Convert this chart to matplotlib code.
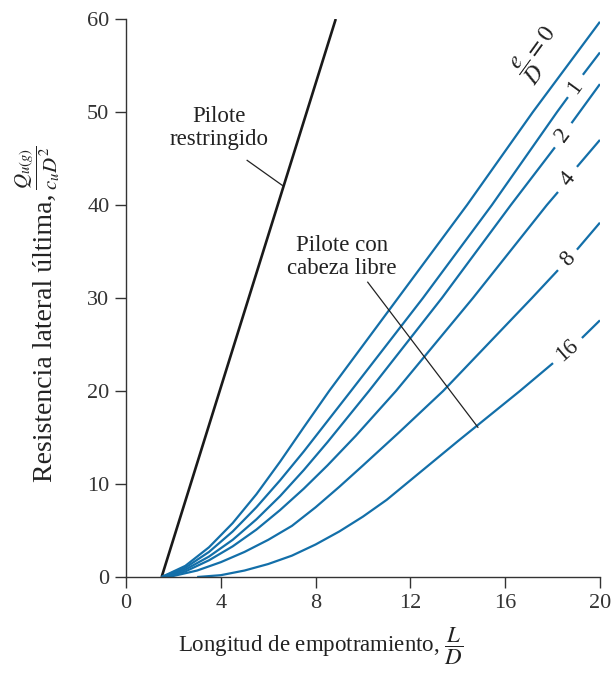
# resistencia lateral ultima de pilotes cortos (arcilla)
import numpy as np
import matplotlib
matplotlib.use('Agg')
import matplotlib.pyplot as plt

plt.rcParams['font.family'] = ['Liberation Serif', 'DejaVu Serif']
plt.rcParams['mathtext.fontset'] = 'stix'

# pilote restringido (recta)
x_rest = [1.5, 8.85]
y_rest = [0, 60]

# pilote con cabeza libre, curvas e/D ; NaN = hueco para la etiqueta
x_e0 = [1.5, 2.5, 3.5, 4.5, 5.5, 6.5, 7.5, 8.57, 11.48, 14.39, 17.17, 20.0]
y_e0 = [0, 1.2, 3.2, 5.8, 8.9, 12.4, 16.1, 20, 30, 40, 50, 59.7]

x_e1 = [1.5, 2.5, 3.5, 4.5, 5.5, 6.5, 7.5, 9.49, 12.53, 15.44, 18.19, 18.65, np.nan, 19.28, 20.0]
y_e1 = [0, 1.0, 2.7, 4.9, 7.5, 10.4, 13.5, 20, 30, 40, 50, 51.6, np.nan, 54.0, 56.4]

x_e2 = [1.5, 2.5, 3.5, 4.5, 5.5, 6.5, 7.5, 8.5, 10.25, 13.33, 16.24, 18.1, np.nan, 18.8, 20.0]
y_e2 = [0, 0.8, 2.2, 4.0, 6.2, 8.7, 11.5, 14.5, 20, 30, 40, 46.2, np.nan, 48.8, 53.0]

x_e4 = [1.6, 2.5, 3.5, 4.5, 5.5, 6.5, 7.5, 8.5, 9.7, 11.39, 14.64, 17.76, 18.23, np.nan, 19.03, 20.0]
y_e4 = [0, 0.6, 1.8, 3.3, 5.1, 7.2, 9.5, 12.0, 15.2, 20, 30, 40, 41.4, np.nan, 44.1, 47.0]

x_e8 = [1.8, 3.0, 4.0, 5.0, 6.0, 7.0, 8.0, 9.0, 10.0, 11.5, 13.38, 17.13, 18.23, np.nan, 19.03, 20.0]
y_e8 = [0, 0.7, 1.6, 2.7, 4.0, 5.5, 7.5, 9.7, 12.0, 15.5, 20, 30, 33.0, np.nan, 35.2, 38.1]

x_e16 = [3.0, 4.0, 5.0, 6.0, 7.0, 8.0, 9.0, 10.0, 11.0, 12.0, 14.0, 16.62, 18.02, np.nan, 19.24, 20.0]
y_e16 = [0, 0.2, 0.7, 1.4, 2.3, 3.5, 4.9, 6.5, 8.3, 10.4, 14.6, 20, 23.0, np.nan, 25.7, 27.6]

curvas = [(x_e0, y_e0), (x_e1, y_e1), (x_e2, y_e2), (x_e4, y_e4), (x_e8, y_e8), (x_e16, y_e16)]

# etiquetas de las curvas: texto, posicion, angulo
etiquetas = ['1', '2', '4', '8', '16']
etq_x = [18.95, 18.45, 18.63, 18.63, 18.63]
etq_y = [52.7, 47.5, 42.8, 34.2, 24.4]
etq_rot = [54, 53, 51, 48, 41]

azul = '#136fa9'
gris = '#222222'

fig = plt.figure(figsize=(6.15, 6.76), dpi=100)
ax = fig.add_axes([0.205, 0.1464, 0.7705, 0.8255])

ax.plot(x_rest, y_rest, color='#1a1a1a', lw=1.9, solid_capstyle='butt')
for (xc, yc) in curvas:
    ax.plot(xc, yc, color=azul, lw=1.6, solid_capstyle='butt')

for t, xt, yt, r in zip(etiquetas, etq_x, etq_y, etq_rot):
    ax.text(xt, yt, t, fontsize=16.5, rotation=r, ha='center', va='center',
            rotation_mode='anchor', color=gris)

ax.text(17.4, 56.3, r'$\dfrac{e}{D}=0$', fontsize=17, rotation=54, ha='center',
        va='center', rotation_mode='anchor', color=gris)

# anotaciones
ax.text(3.92, 48.3, 'Pilote\nrestringido', fontsize=16.5, ha='center', va='center',
        linespacing=1.15, color=gris)
ax.plot([5.11, 6.6], [44.8, 42.1], color=gris, lw=0.9)

ax.text(9.11, 34.4, 'Pilote con\ncabeza libre', fontsize=16.5, ha='center', va='center',
        linespacing=1.15, color=gris)
ax.plot([10.2, 14.85], [31.7, 16.1], color=gris, lw=0.9)

ax.set_xlim(0, 20)
ax.set_ylim(0, 60)
ax.set_xticks(np.arange(0, 21, 4))
ax.set_yticks(np.arange(0, 61, 10))
ax.tick_params(direction='out', length=8, width=1, labelsize=16, colors='#333333', pad=4)
ax.spines['top'].set_visible(False)
ax.spines['right'].set_visible(False)
for s in ['left', 'bottom']:
    ax.spines[s].set_color('#333333')
    ax.spines[s].set_linewidth(1.0)

ax.set_xlabel(r'Longitud de empotramiento, $\dfrac{L}{D}$', fontsize=16.5, color=gris)
ax.xaxis.set_label_coords(0.41, -0.088)

# eje y: texto + fraccion mas pequena a continuacion
ylab = fig.text(0.074, 0.50, 'Resistencia lateral última,', rotation=90, ha='center',
                va='center', fontsize=20, color=gris)
ax.annotate(r'$\dfrac{Q_{u(g)}}{c_u D^2}$', xy=(0.5, 1), xycoords=ylab,
            xytext=(-6, 3), textcoords='offset points', rotation=90, ha='left',
            va='center', rotation_mode='anchor', fontsize=15, color=gris)

plt.savefig('out.png', dpi=100)
